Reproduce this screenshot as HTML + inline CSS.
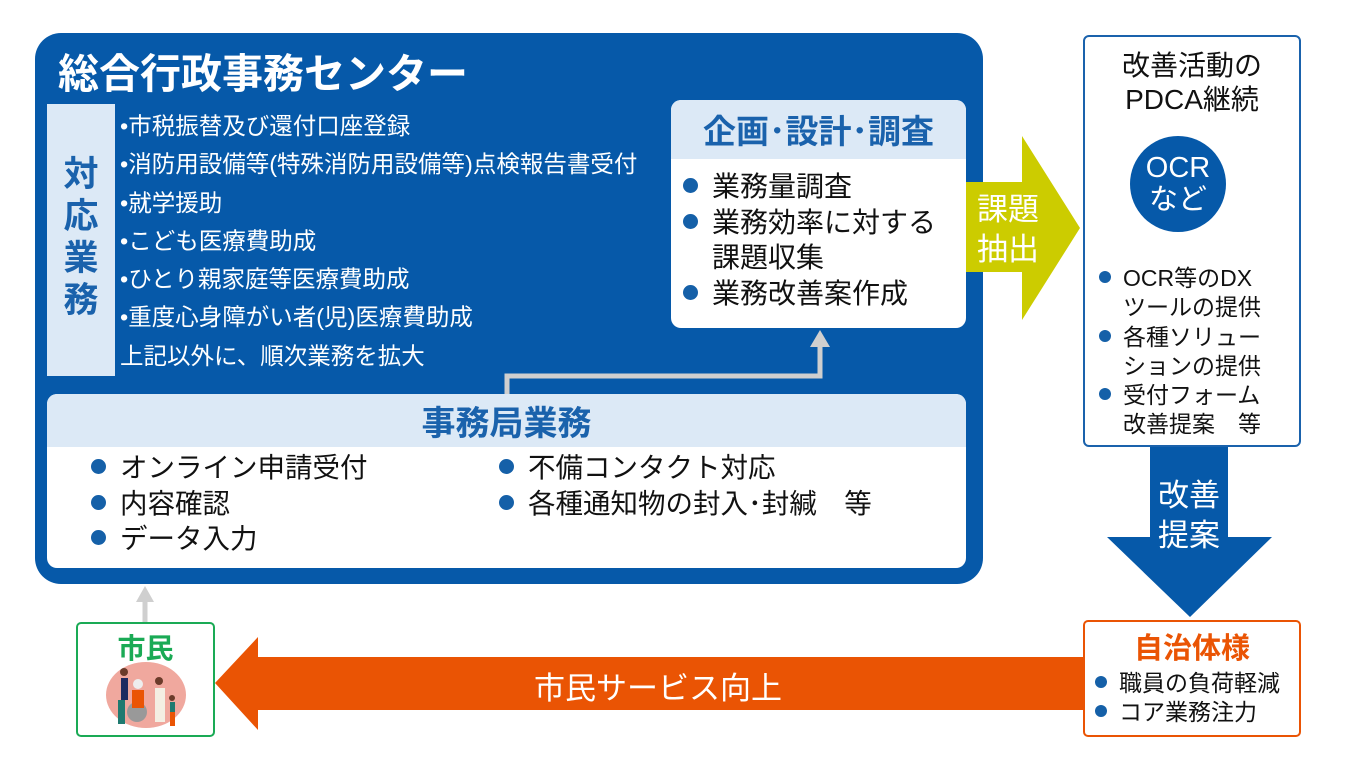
<!DOCTYPE html>
<html><head><meta charset="utf-8"><style>
*{margin:0;padding:0;box-sizing:border-box}
body{width:1354px;height:770px;background:#fff;position:relative;overflow:hidden;font-family:"Liberation Sans","Noto Sans CJK JP",sans-serif}
.a{position:absolute}
.dot{display:inline-block;width:15px;height:15px;border-radius:50%;background:#1560a8;margin-right:14px;vertical-align:3px}
.sd{display:inline-block;width:12px;height:12px;border-radius:50%;background:#1560a8;margin-right:12px;vertical-align:3px}
</style></head><body>
<div class="a" style="left:35px;top:33px;width:948px;height:551px;background:#0659a9;border-radius:26px"></div>
<div class="a" style="left:58px;top:40px;color:#fff;font-size:41px;font-weight:bold">総合行政事務センター</div>
<div class="a" style="left:47px;top:104px;width:68px;height:272px;background:#dce9f6;color:#1a62ac;font-size:35px;font-weight:bold;line-height:42px;text-align:center;padding-top:50px">対<br>応<br>業<br>務</div>
<div class="a" style="left:120px;top:107px;color:#fff;font-size:23.5px;line-height:38.3px;white-space:nowrap">•市税振替及び還付口座登録<br>•消防用設備等(特殊消防用設備等)点検報告書受付<br>•就学援助<br>•こども医療費助成<br>•ひとり親家庭等医療費助成<br>•重度心身障がい者(児)医療費助成<br>上記以外に、順次業務を拡大</div>
<div class="a" style="left:671px;top:100px;width:295px;height:228px;background:#fff;border-radius:10px;overflow:hidden">
<div style="height:59px;background:#dce9f6;color:#1a62ac;font-size:33px;font-weight:bold;text-align:center;line-height:64px;white-space:nowrap">企画･設計･調査</div>
<div style="padding:10px 0 0 12px;font-size:28px;line-height:35.5px;color:#111;white-space:nowrap"><span class="dot"></span>業務量調査<br><span class="dot"></span>業務効率に対する<br><span style="margin-left:29px">課題収集</span><br><span class="dot"></span>業務改善案作成</div></div>
<div class="a" style="left:47px;top:394px;width:919px;height:174px;background:#fff;border-radius:10px;overflow:hidden">
<div style="height:53px;background:#dce9f6;color:#1a62ac;font-size:34px;font-weight:bold;text-align:center;line-height:60px">事務局業務</div>
<div class="a" style="left:44px;top:56px;font-size:27.5px;line-height:35.5px;color:#111;white-space:nowrap"><span class="dot"></span>オンライン申請受付<br><span class="dot"></span>内容確認<br><span class="dot"></span>データ入力</div>
<div class="a" style="left:452px;top:56px;font-size:27.5px;line-height:35.5px;color:#111;white-space:nowrap"><span class="dot"></span>不備コンタクト対応<br><span class="dot"></span>各種通知物の封入･封緘　等</div></div>
<svg class="a" style="left:0;top:0" width="1354" height="770">
<polyline points="507,394 507,376 820,376 820,345" fill="none" stroke="#cfcfcf" stroke-width="5"/>
<polygon points="810,347 830,347 820,330" fill="#cfcfcf"/>
<line x1="145" y1="622" x2="145" y2="600" stroke="#cfcfcf" stroke-width="5"/>
<polygon points="136,602 154,602 145,586" fill="#cfcfcf"/>
<polygon points="966,182 1022,182 1022,136 1080,228 1022,320 1022,272 966,272" fill="#cccc00"/>
<polygon points="1150,447 1228,447 1228,537 1272,537 1190,617 1107,537 1150,537" fill="#0659a9"/>
<polygon points="1083,657 258,657 258,637 215,683 258,730 258,710 1083,710" fill="#ea5404"/>
<ellipse cx="146" cy="695" rx="40" ry="33" fill="#f0a89e"/>
<rect x="121" y="678" width="7" height="22" fill="#1f2a60"/><rect x="118" y="700" width="7" height="24" fill="#1f7a70"/>
<circle cx="124" cy="672" r="4" fill="#6b3b2a"/>
<circle cx="137" cy="712" r="10" fill="#999"/><rect x="132" y="690" width="12" height="18" fill="#ea5404"/><circle cx="138" cy="684" r="5" fill="#eee"/>
<rect x="155" y="688" width="10" height="34" fill="#f4efe3"/><circle cx="159" cy="681" r="4" fill="#6b3b2a"/>
<rect x="170" y="702" width="5" height="10" fill="#1f7a70"/><rect x="170" y="712" width="5" height="14" fill="#ea5404"/><circle cx="172" cy="698" r="3" fill="#6b3b2a"/>
</svg>
<div class="a" style="left:966px;top:190px;width:84px;text-align:center;color:#fff;font-size:31px;line-height:40px">課題<br>抽出</div>
<div class="a" style="left:1148px;top:476px;width:82px;text-align:center;color:#fff;font-size:31px;line-height:40px">改善<br>提案</div>
<div class="a" style="left:400px;top:663px;width:516px;text-align:center;color:#fff;font-size:31px">市民サービス向上</div>
<div class="a" style="left:1083px;top:35px;width:218px;height:412px;border:2px solid #1a62ac;border-radius:6px">
<div style="text-align:center;font-size:28px;line-height:34px;margin-top:12px;color:#111;white-space:nowrap">改善活動の<br>PDCA継続</div>
<div class="a" style="left:45px;top:99px;width:96px;height:96px;border-radius:50%;background:#0659a9;color:#fff;font-size:29px;line-height:32px;text-align:center;padding-top:16px">OCR<br>など</div>
<div class="a" style="left:14px;top:227px;font-size:23px;line-height:29.3px;color:#111;white-space:nowrap"><span class="sd"></span>OCR等のDX<br><span style="margin-left:24px">ツールの提供</span><br><span class="sd"></span>各種ソリュー<br><span style="margin-left:24px">ションの提供</span><br><span class="sd"></span>受付フォーム<br><span style="margin-left:24px">改善提案　等</span></div></div>
<div class="a" style="left:1083px;top:620px;width:218px;height:117px;border:2px solid #ea5404;border-radius:5px">
<div style="text-align:center;color:#ea5404;font-size:29px;font-weight:bold;margin-top:3px">自治体様</div>
<div style="padding-left:10px;font-size:23px;line-height:29px;color:#111;margin-top:2px;white-space:nowrap"><span class="sd"></span>職員の負荷軽減<br><span class="sd"></span>コア業務注力</div></div>
<div class="a" style="left:76px;top:622px;width:139px;height:115px;border:2px solid #1aaa55;border-radius:5px">
<div style="text-align:center;color:#1aaa55;font-size:28px;font-weight:bold;margin-top:3px">市民</div></div>
</body></html>
